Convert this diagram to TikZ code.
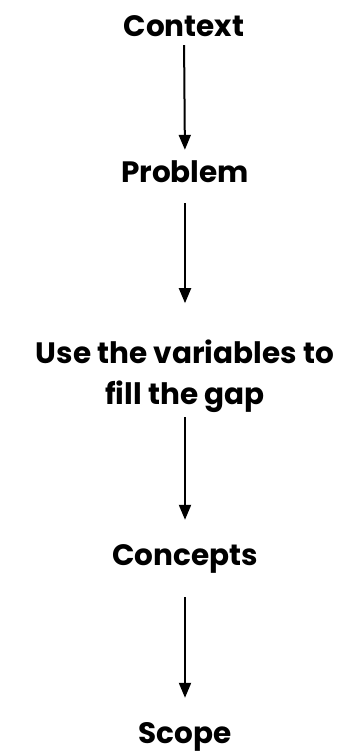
\documentclass[tikz,border=0pt]{standalone}
\usepackage{fontspec}
\setmainfont{Poppins}
\usetikzlibrary{arrows.meta, positioning}

\begin{document}
\begin{tikzpicture}[x=1pt, y=-1pt]
	\tikzset {flow/.style={-{Triangle[width=12pt,length=15pt]}, line width=2pt}, step box/.style={inner sep=0pt, anchor=base, align=center, font=\fontsize{29.5}{41}\selectfont\bfseries}, one line/.style={text height=20pt, text depth=0pt}}

	\useasboundingbox (0,0) rectangle (341,753);

	\node[step box, one line] (ctx) at (184,36) {Context};
	\node[step box, one line] (prob) at (185,182) {Problem};
	\node[step box] (gap) at (185,404) {Use the variables to\\fill the gap};
	\node[step box, one line] (conc) at (185,565) {Concepts};
	\node[step box, one line] (scope) at (185,743) {Scope};

	\draw[flow, shorten <=9pt, shorten >=12pt] (ctx.south) -- (prob.north);
	\draw[flow, shorten <=21pt, shorten >=36pt] (prob.south) -- (gap.north);
	\draw[flow, shorten <=5pt, shorten >=25pt] (gap.south) -- (conc.north);
	\draw[flow, shorten <=32pt, shorten >=25pt] (conc.south) -- (scope.north);
\end{tikzpicture}
\end{document}
